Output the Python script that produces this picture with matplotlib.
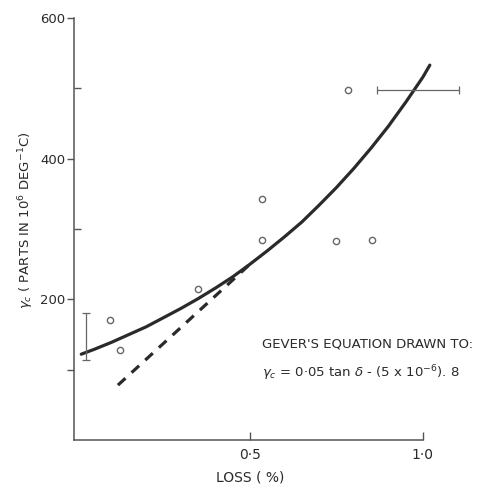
import numpy as np
import matplotlib
matplotlib.use("Agg")
import matplotlib.pyplot as plt

plt.rcParams['font.family'] = ['DejaVu Sans']
plt.rcParams['mathtext.fontset'] = 'dejavusans'

# measured points: loss (%) against temperature coefficient
loss_pts = [0.095, 0.124, 0.35, 0.535, 0.535, 0.749, 0.783, 0.853]
gamma_pts = [171, 128, 215, 343, 285, 283, 498, 285]

# smooth curve through the measurements
curve_loss = [0.012, 0.05, 0.1, 0.15, 0.2, 0.25, 0.3, 0.35, 0.4, 0.45, 0.5,
              0.55, 0.6, 0.65, 0.7, 0.75, 0.8, 0.85, 0.9, 0.95, 1.0, 1.02]
curve_gamma = [122, 129, 139, 150, 161, 174, 187, 201, 216, 232, 250,
               269, 289, 310, 334, 359, 386, 415, 446, 480, 516, 533]

# Gever's equation line
gever_loss = [0.118, 0.5]
gever_gamma = [78, 250]

# error bars: (x, y, low, high)
vbar = (0.026, 147.5, 114, 181)
hbar = (0.985, 498, 0.867, 1.104)

ink = '#2a2a2a'
grey = '#555555'

fig = plt.figure(figsize=(4.81, 4.86), dpi=100)
ax = fig.add_axes([74 / 481, 46 / 486, 1 - 74 / 481, (440 - 18) / 486])
ax.set_xlim(-0.009, 1.168)
ax.set_ylim(0, 600)

ax.plot(curve_loss, curve_gamma, color=ink, lw=2.3, solid_capstyle='round')
ax.plot(gever_loss, gever_gamma, color=ink, lw=2.3, ls=(0, (3.2, 2.6)))
ax.plot(loss_pts, gamma_pts, 'o', mfc='white', mec='#666666', mew=1.0, ms=4.5)

ax.errorbar([vbar[0]], [vbar[1]], yerr=[[vbar[1] - vbar[2]], [vbar[3] - vbar[1]]],
            fmt='none', ecolor='#666666', elinewidth=0.9, capsize=3, capthick=0.9)
ax.errorbar([hbar[0]], [hbar[1]], xerr=[[hbar[0] - hbar[2]], [hbar[3] - hbar[0]]],
            fmt='none', ecolor='#666666', elinewidth=0.9, capsize=3, capthick=0.9,
            clip_on=False)

for s in ['top', 'right']:
    ax.spines[s].set_visible(False)
ax.spines['left'].set_bounds(0, 600)
ax.spines['bottom'].set_bounds(-0.009, 1.0)
for s in ['left', 'bottom']:
    ax.spines[s].set_color(grey)
    ax.spines[s].set_linewidth(1.1)

ax.set_yticks([100, 200, 400, 600])
ax.set_yticklabels(['', '200', '400', '600'])
ax.set_yticks([300, 500], minor=True)
ax.tick_params(axis='y', which='major', direction='out', length=5, width=1,
               color=grey, labelsize=9.5, labelcolor=ink, pad=1)
ax.tick_params(axis='y', which='minor', direction='in', length=5, width=1, color=grey)

ax.set_xticks([0.5, 1.0])
ax.set_xticklabels(['0·5', '1·0'])
ax.tick_params(axis='x', direction='in', length=6, width=1, color=grey,
               labelsize=10, labelcolor=ink, pad=6)

fig.text(250 / 481, 1 - 477 / 486, 'LOSS ( %)', ha='center', va='center',
         fontsize=10, color=ink)
fig.text(26 / 481, 1 - 220 / 486, r'$\gamma_c$ ( PARTS IN 10$^6$ DEG$^{-1}$C)',
         rotation=90, ha='center', va='center', fontsize=9.5, color=ink)

fig.text(262 / 481, 1 - 344 / 486, "GEVER'S EQUATION DRAWN TO:", ha='left',
         va='center', fontsize=9.5, color=ink)
fig.text(262 / 481, 1 - 373 / 486,
         r'$\gamma_c$ = 0·05 tan $\delta$ - (5 x 10$^{-6}$). 8', ha='left',
         va='center', fontsize=9.5, color=ink)

fig.savefig('out.png', dpi=100, facecolor='white')
